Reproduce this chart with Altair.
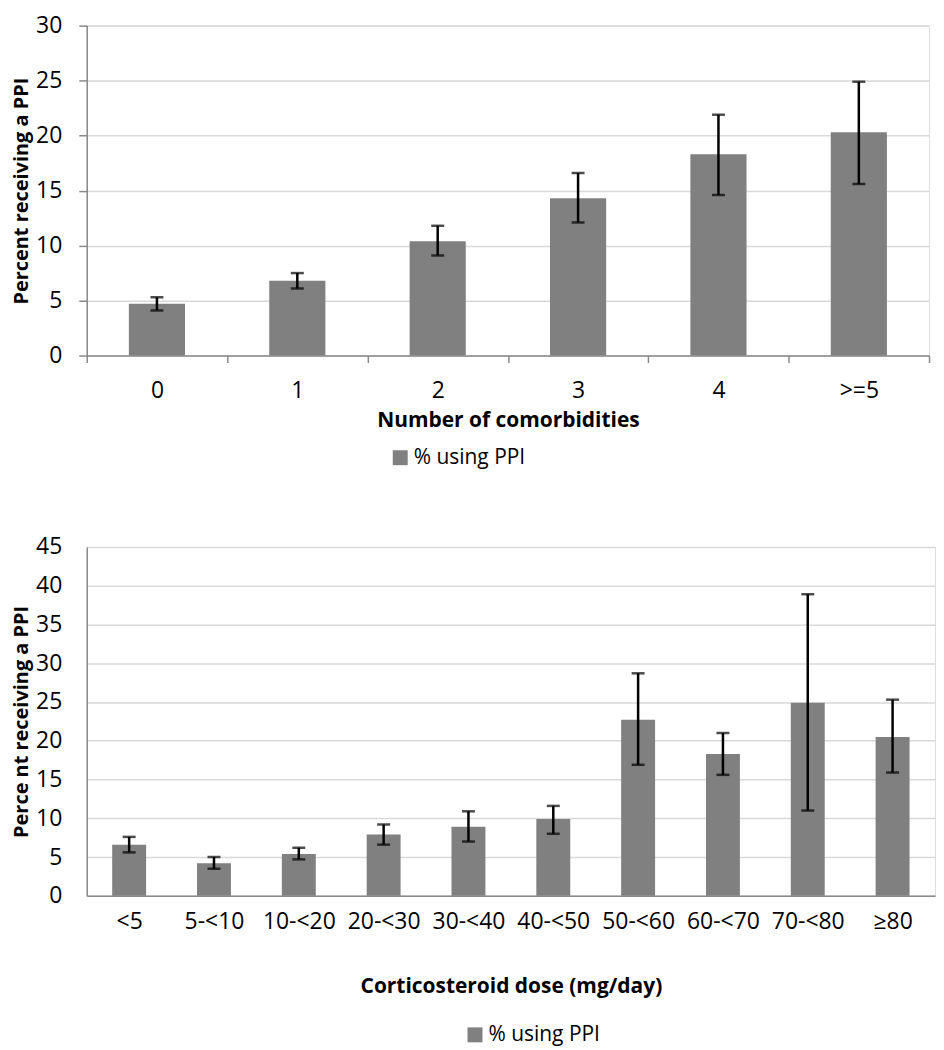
import altair as alt
import pandas as pd

# ---------------- data ----------------
top_categories = ["0", "1", "2", "3", "4", ">=5"]
top_percent = [4.7, 6.8, 10.4, 14.3, 18.3, 20.3]
top_ci_low = [4.1, 6.1, 9.1, 12.1, 14.6, 15.6]
top_ci_high = [5.3, 7.5, 11.8, 16.6, 21.9, 24.9]
top_y_ticks = [0, 5, 10, 15, 20, 25, 30]

bottom_categories = ["<5", "5-<10", "10-<20", "20-<30", "30-<40",
                     "40-<50", "50-<60", "60-<70", "70-<80", "≥80"]
bottom_percent = [6.6, 4.2, 5.4, 7.9, 8.9, 9.9, 22.7, 18.3, 24.9, 20.5]
bottom_ci_low = [5.6, 3.5, 4.7, 6.6, 7.0, 8.0, 16.9, 15.6, 11.0, 15.9]
bottom_ci_high = [7.6, 5.0, 6.2, 9.2, 10.9, 11.6, 28.7, 21.0, 38.9, 25.3]
bottom_y_ticks = [0, 5, 10, 15, 20, 25, 30, 35, 40, 45]

series_name = "% using PPI"

FONT = "Open Sans"
BAR = "#808080"
AXIS_GREY = "#8a8a8a"
GRID = "#d9d9d9"
LABEL_SIZE = 23


def panel(cats, vals, lo, hi, yticks, ymax, xtitle, ytitle, width, height,
          x_ticks, y_ticks, y_title_pad, x_label_pad, x_title_pad,
          legend_x, legend_y, y_label_pad):
    df = pd.DataFrame({"cat": cats, "val": vals, "lo": lo, "hi": hi,
                       "series": [series_name] * len(cats)})
    x_axis = alt.Axis(
        title=xtitle, labelAngle=0, grid=False,
        ticks=x_ticks, tickSize=7 if x_ticks else 0, tickBand="extent",
        tickColor=AXIS_GREY, tickWidth=1.5,
        domainColor=AXIS_GREY, domainWidth=1.5,
        labelPadding=x_label_pad, titlePadding=x_title_pad,
        labelFont=FONT, labelFontSize=LABEL_SIZE, labelColor="black",
        titleFont=FONT, titleFontSize=21, titleFontWeight="bold",
        titleColor="black",
    )
    y_axis = alt.Axis(
        title=ytitle, values=yticks, grid=True, gridColor=GRID, gridWidth=1.5,
        ticks=y_ticks, tickSize=8 if y_ticks else 0,
        tickColor=AXIS_GREY, tickWidth=1.5,
        domainColor=AXIS_GREY, domainWidth=1.5,
        labelPadding=y_label_pad, titlePadding=y_title_pad,
        labelFont=FONT, labelFontSize=LABEL_SIZE, labelColor="black",
        titleFont=FONT, titleFontSize=20, titleFontWeight="bold",
        titleColor="black",
    )
    x_scale = alt.Scale(paddingInner=0, paddingOuter=0)
    y_scale = alt.Scale(domain=[0, ymax], nice=False)

    def xenc():
        return alt.X("cat:N", sort=cats, scale=x_scale, axis=x_axis)

    def yenc(field):
        return alt.Y(f"{field}:Q", scale=y_scale, axis=y_axis)

    bars = alt.Chart(df).mark_bar(width=alt.RelativeBandSize(0.4)).encode(
        x=xenc(),
        y=yenc("val"),
        color=alt.Color(
            "series:N",
            scale=alt.Scale(domain=[series_name], range=[BAR]),
            legend=alt.Legend(
                title=None, orient="none", legendX=legend_x, legendY=legend_y,
                symbolType="square", symbolSize=225, symbolStrokeWidth=0,
                labelFont=FONT, labelFontSize=21, labelColor="black",
                labelOffset=3, padding=0,
            ),
        ),
    )
    rules = alt.Chart(df).mark_rule(color="black", strokeWidth=2.5).encode(
        x=xenc(), y=yenc("lo"), y2="hi:Q"
    )
    cap_hi = alt.Chart(df).mark_tick(color="black", thickness=2.5, size=13).encode(
        x=xenc(), y=yenc("hi")
    )
    cap_lo = alt.Chart(df).mark_tick(color="black", thickness=2.5, size=13).encode(
        x=xenc(), y=yenc("lo")
    )
    return alt.layer(bars, rules, cap_hi, cap_lo).properties(width=width, height=height)


top = panel(top_categories, top_percent, top_ci_low, top_ci_high, top_y_ticks, 30,
            "Number of comorbidities", "Percent receiving a PPI", 845, 331,
            x_ticks=True, y_ticks=True, y_title_pad=4, x_label_pad=17,
            x_title_pad=7, legend_x=304, legend_y=423, y_label_pad=17)

bottom = panel(bottom_categories, bottom_percent, bottom_ci_low, bottom_ci_high,
               bottom_y_ticks, 45, "Corticosteroid dose (mg/day)",
               "Perce nt receiving a PPI", 851, 350,
               x_ticks=False, y_ticks=False, y_title_pad=4, x_label_pad=15,
               x_title_pad=42, legend_x=379, legend_y=479, y_label_pad=25)

chart = alt.vconcat(top, bottom, spacing=66).resolve_scale(
    color="independent", x="independent", y="independent"
).resolve_legend(color="independent").properties(
    padding={"left": 3, "top": 4, "right": 0, "bottom": 0}
).configure_view(stroke=None).configure(background="white")

chart.save("out.html", embed_options={"renderer": "svg", "actions": False})
